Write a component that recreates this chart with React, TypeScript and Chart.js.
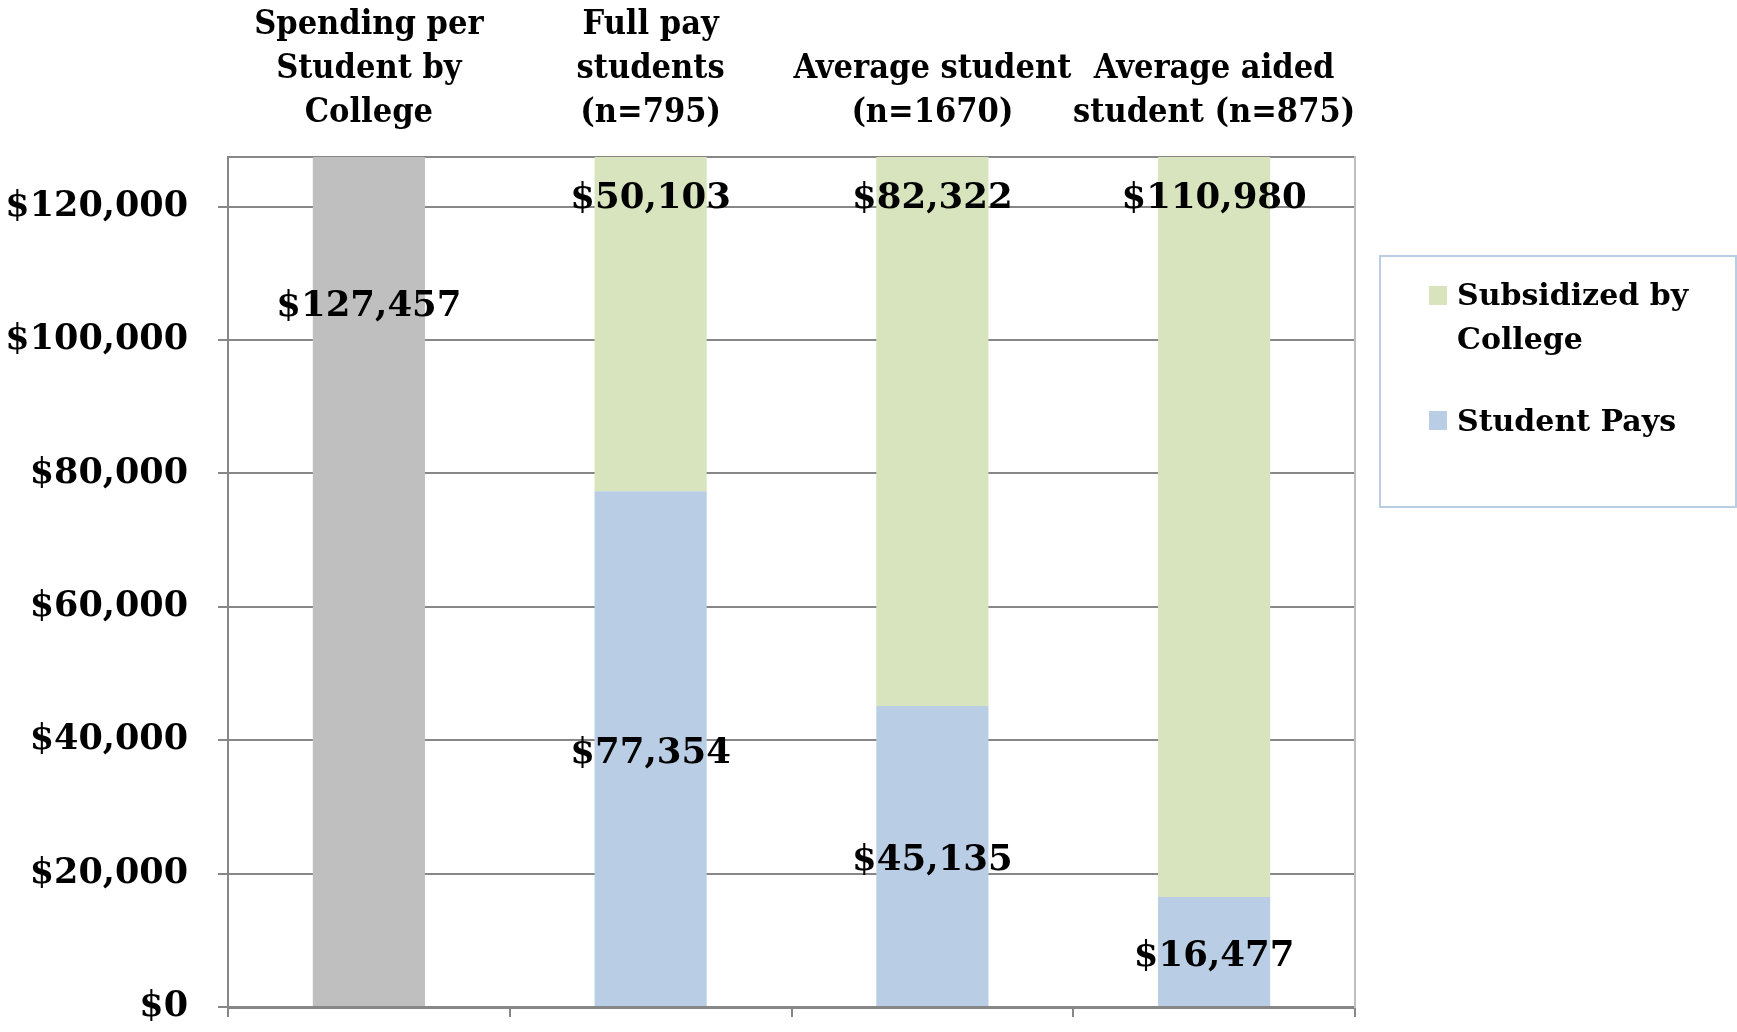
import React, { useEffect, useRef } from "react";
import { Chart, registerables } from "chart.js";

Chart.register(...registerables);

const categories: string[][] = [
  ["Spending per", "Student by", "College"],
  ["Full pay", "students", "(n=795)"],
  ["Average student", "(n=1670)"],
  ["Average aided", "student (n=875)"],
];
const spendingPerStudent: (number | null)[] = [127457, null, null, null];
const studentPays: (number | null)[] = [null, 77354, 45135, 16477];
const subsidizedByCollege: (number | null)[] = [null, 50103, 82322, 110980];
const yMax = 127457;
const yTickValues: number[] = [0, 20000, 40000, 60000, 80000, 100000, 120000];

const GRID = "#878787";
const SERIF = "'DejaVu Serif', serif";
const SERIF_COND = "'DejaVu Serif Condensed', 'DejaVu Serif', serif";

const fmt = (v: number) => "$" + Math.round(v).toLocaleString("en-US");

const valueLabels = {
  id: "valueLabels",
  afterDatasetsDraw(chart: any) {
    const ctx = chart.ctx;
    ctx.save();
    ctx.font = `bold 35.5px ${SERIF}`;
    ctx.fillStyle = "#000";
    ctx.textAlign = "center";
    ctx.textBaseline = "middle";
    chart.data.datasets.forEach((ds: any, di: number) => {
      const meta = chart.getDatasetMeta(di);
      meta.data.forEach((el: any, i: number) => {
        const v = ds.data[i];
        if (v == null) return;
        const top = Math.min(el.y, el.base);
        const bottom = Math.max(el.y, el.base);
        let y = (top + bottom) / 2 + 5;
        if (ds.labelMode === "nearTop") y = top + 42;
        if (ds.labelMode === "upper") y = top + 150;
        ctx.fillText(fmt(v), el.x, y);
      });
    });
    ctx.restore();
  },
};

export default function App() {
  const ref = useRef<HTMLCanvasElement | null>(null);
  useEffect(() => {
    if (!ref.current) return;
    const chart = new Chart(ref.current, {
      type: "bar",
      data: {
        labels: categories as any,
        datasets: [
          {
            label: "Spending per Student by College",
            data: spendingPerStudent,
            backgroundColor: "#BFBFBF",
            labelMode: "upper",
          } as any,
          {
            label: "Student Pays",
            data: studentPays,
            backgroundColor: "#B9CDE5",
          } as any,
          {
            label: "Subsidized by College",
            data: subsidizedByCollege,
            backgroundColor: "#D7E4BD",
            labelMode: "nearTop",
          } as any,
        ],
      },
      options: {
        animation: false,
        responsive: true,
        maintainAspectRatio: false,
        layout: { padding: { left: 0, right: 382, top: 0, bottom: 0 } },
        datasets: { bar: { barPercentage: 0.398, categoryPercentage: 1 } },
        plugins: {
          legend: { display: false },
          title: { display: false },
          tooltip: { enabled: false },
        },
        scales: {
          x: {
            type: "category",
            position: "top",
            stacked: true,
            offset: true,
            grid: { display: false, drawTicks: false },
            border: { display: true, color: GRID, width: 2 },
            ticks: {
              autoSkip: false,
              maxRotation: 0,
              minRotation: 0,
              padding: 22,
              color: "#000",
              font: { family: SERIF_COND, weight: "bold", size: 34, lineHeight: 44 / 34 },
            },
            afterFit: (s: any) => {
              s.height = 157;
              s.paddingLeft = 0;
              s.paddingRight = 0;
            },
          },
          x2: {
            type: "category",
            position: "bottom",
            offset: true,
            grid: {
              display: true,
              drawOnChartArea: false,
              drawTicks: true,
              tickLength: 10,
              offset: true,
              color: GRID,
              lineWidth: 2,
            },
            border: { display: true, color: GRID, width: 3 },
            ticks: { display: false },
            afterFit: (s: any) => {
              s.height = 25;
              s.paddingLeft = 0;
              s.paddingRight = 0;
            },
          },
          y: {
            type: "linear",
            position: "left",
            stacked: true,
            min: 0,
            max: yMax,
            grid: { color: GRID, lineWidth: 2, drawTicks: true, tickLength: 10 },
            border: { display: true, color: GRID, width: 2 },
            ticks: {
              padding: 30,
              color: "#000",
              font: { family: SERIF, weight: "bold", size: 35 },
              callback: (v: any) => fmt(Number(v)),
            },
            afterBuildTicks: (s: any) => {
              s.ticks = yTickValues.map((v) => ({ value: v }));
            },
            afterFit: (s: any) => {
              s.width = 228;
              s.paddingTop = 0;
              s.paddingBottom = 0;
            },
          },
          y2: {
            type: "linear",
            position: "right",
            min: 0,
            max: 1,
            grid: { display: false, drawTicks: false },
            border: { display: true, color: "#BFBFBF", width: 2 },
            ticks: { display: false },
            afterFit: (s: any) => {
              s.width = 0;
              s.paddingTop = 0;
              s.paddingBottom = 0;
            },
          },
        } as any,
      },
      plugins: [valueLabels],
    });
    return () => chart.destroy();
  }, []);

  const legendText: React.CSSProperties = {
    position: "absolute",
    left: 1457,
    fontFamily: SERIF,
    fontWeight: "bold",
    fontSize: 30,
    lineHeight: "44px",
    color: "#000",
    whiteSpace: "nowrap",
  };
  const marker = (color: string, top: number): React.CSSProperties => ({
    position: "absolute",
    left: 1429,
    top,
    width: 18,
    height: 19,
    background: color,
  });

  return (
    <div
      style={{
        position: "fixed",
        left: 0,
        top: 0,
        width: 1737,
        height: 1032,
        background: "#fff",
        overflow: "hidden",
      }}
    >
      <canvas ref={ref} />
      <div
        style={{
          position: "absolute",
          left: 1379,
          top: 255,
          width: 358,
          height: 253,
          border: "2px solid #B9CDE5",
          boxSizing: "border-box",
        }}
      />
      <div style={marker("#D7E4BD", 286)} />
      <div style={{ ...legendText, top: 273 }}>
        Subsidized by
        <br />
        College
      </div>
      <div style={marker("#B9CDE5", 411)} />
      <div style={{ ...legendText, top: 399 }}>Student Pays</div>
    </div>
  );
}
